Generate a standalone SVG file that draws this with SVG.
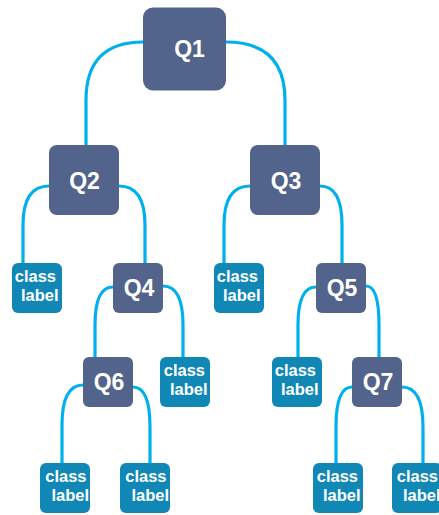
<svg xmlns="http://www.w3.org/2000/svg" width="439" height="515" viewBox="0 0 439 515">
  <style>
    .edge { fill: none; stroke: #00b0ee; stroke-width: 3.2; stroke-linecap: round; }
    .q rect { fill: #52648b; }
    .leaf rect { fill: #1187b6; }
    text { fill: #ffffff; font-family: "Liberation Sans", Arial, sans-serif; font-weight: bold; }
    .q text { font-size: 23px; text-anchor: middle; }
    .leaf text { font-size: 16.5px; text-anchor: end; }
  </style>

  <!-- connectors: leave each node from its side, bend down into the child -->
  <g id="connectors">
    <path class="edge" d="M143,42 Q86,42 86,100 L86,146"/>
    <path class="edge" d="M226,42 Q285,42 285,100 L285,146"/>
    <path class="edge" d="M49,186 Q23,186 23,225 L23,264"/>
    <path class="edge" d="M119,186 Q145,186 145,225 L145,264"/>
    <path class="edge" d="M250,186 Q224,186 224,225 L224,264"/>
    <path class="edge" d="M320,186 Q342,186 342,225 L342,264"/>
    <path class="edge" d="M113,287 Q95,287 95,325 L95,358"/>
    <path class="edge" d="M163,286 Q183,286 183,325 L183,358"/>
    <path class="edge" d="M316,287 Q298,287 298,325 L298,358"/>
    <path class="edge" d="M366,286 Q379,286 379,325 L379,358"/>
    <path class="edge" d="M83,385 Q62,385 62,425 L62,464"/>
    <path class="edge" d="M133,387 Q150,387 150,427 L150,464"/>
    <path class="edge" d="M352,387 Q336,387 336,427 L336,464"/>
    <path class="edge" d="M402,387 Q423,387 423,427 L423,464"/>
  </g>

  <!-- question nodes -->
  <g id="q1" class="q"><rect x="143" y="7.5" width="83" height="83" rx="10"/><text x="189.5" y="56.5">Q1</text></g>
  <g id="q2" class="q"><rect x="49" y="145" width="70" height="70" rx="8"/><text x="84.5" y="188.5">Q2</text></g>
  <g id="q3" class="q"><rect x="250" y="145" width="70" height="70" rx="8"/><text x="286" y="188.5">Q3</text></g>
  <g id="q4" class="q"><rect x="113" y="263" width="50" height="50" rx="6"/><text x="139" y="296">Q4</text></g>
  <g id="q5" class="q"><rect x="316" y="263" width="50" height="50" rx="6"/><text x="342" y="296">Q5</text></g>
  <g id="q6" class="q"><rect x="83" y="357" width="50" height="50" rx="6"/><text x="109" y="390">Q6</text></g>
  <g id="q7" class="q"><rect x="352" y="357" width="50" height="50" rx="6"/><text x="378" y="390">Q7</text></g>

  <!-- leaf nodes -->
  <g id="leaf1" class="leaf"><rect x="12" y="263" width="50" height="50" rx="6"/><text x="56" y="282">class</text><text x="58.5" y="301">label</text></g>
  <g id="leaf2" class="leaf"><rect x="214" y="263" width="50" height="50" rx="6"/><text x="258" y="282">class</text><text x="260.5" y="301">label</text></g>
  <g id="leaf3" class="leaf"><rect x="160" y="357" width="50" height="50" rx="6"/><text x="205" y="376">class</text><text x="207.5" y="395">label</text></g>
  <g id="leaf4" class="leaf"><rect x="272" y="357" width="50" height="50" rx="6"/><text x="316" y="376">class</text><text x="318.5" y="395">label</text></g>
  <g id="leaf5" class="leaf"><rect x="40" y="463" width="50" height="50" rx="6"/><text x="86.5" y="482">class</text><text x="89" y="501">label</text></g>
  <g id="leaf6" class="leaf"><rect x="120" y="463" width="50" height="50" rx="6"/><text x="166.5" y="482">class</text><text x="169" y="501">label</text></g>
  <g id="leaf7" class="leaf"><rect x="313" y="463" width="50" height="50" rx="6"/><text x="358" y="482">class</text><text x="360.5" y="501">label</text></g>
  <g id="leaf8" class="leaf"><rect x="392" y="463" width="50" height="50" rx="6"/><text x="438" y="482">class</text><text x="440.5" y="501">label</text></g>
</svg>
